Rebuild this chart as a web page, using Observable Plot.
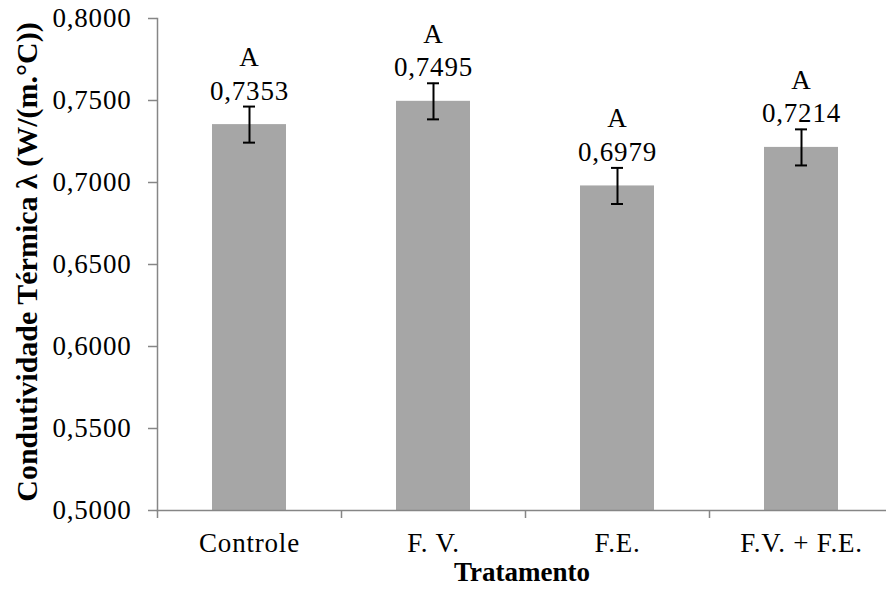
<!DOCTYPE html>
<html>
<head>
<meta charset="utf-8">
<script src="https://cdn.jsdelivr.net/npm/d3@7"></script>
<script src="https://cdn.jsdelivr.net/npm/@observablehq/plot@0.6"></script>
<style>
  html, body { margin: 0; padding: 0; background: #fff; }
  svg { display: block; }
  svg, svg text { font-family: "Liberation Serif", "Times New Roman", Times, serif !important; }
</style>
</head>
<body>
<div id="chart"></div>
<script>
const categories = ["Controle", "F. V.", "F.E.", "F.V. + F.E."];
const values = [0.7353, 0.7495, 0.6979, 0.7214];
const errors = [0.011, 0.011, 0.011, 0.011];
const letters = ["A", "A", "A", "A"];
const yTicks = [0.50, 0.55, 0.60, 0.65, 0.70, 0.75, 0.80];

const data = categories.map((c, i) => ({cat: c, v: values[i], e: errors[i], l: letters[i]}));
const fmt = d => d3.format(".4f")(d).replace(".", ",");

const chart = Plot.plot({
  width: 886,
  height: 589,
  marginLeft: 157,
  marginRight: 0,
  marginTop: 18,
  marginBottom: 79,
  style: {fontSize: "27px", color: "#000", background: "#fff"},
  x: {domain: categories, range: [157, 893.5], paddingInner: 0.6, paddingOuter: 0.3},
  y: {domain: [0.5, 0.8]},
  marks: [
    Plot.barY(data, {x: "cat", y: "v", y1: 0.5, fill: "#a6a6a6"}),
    Plot.ruleX(data, {x: "cat", y1: d => d.v - d.e, y2: d => d.v + d.e, stroke: "#000", strokeWidth: 2}),
    Plot.tickY(data, {x: "cat", y: d => d.v + d.e, stroke: "#000", strokeWidth: 2, insetLeft: 31, insetRight: 31}),
    Plot.tickY(data, {x: "cat", y: d => d.v - d.e, stroke: "#000", strokeWidth: 2, insetLeft: 31, insetRight: 31}),
    Plot.text(data, {x: "cat", y: d => d.v + d.e, text: d => d.l + "\n" + fmt(d.v), lineAnchor: "bottom", dy: -7, lineHeight: 1.25, fontSize: 27, fill: "#000"}),
    Plot.axisY({ticks: yTicks, tickFormat: fmt, tickSize: 9, tickPadding: 17, stroke: "#868686", strokeWidth: 1.5, fill: "#000", fontSize: 27, label: null}),
    Plot.axisX({tickSize: 8, tickFormat: null, dx: -92, stroke: "#868686", strokeWidth: 1.5, label: null}),
    Plot.axisX({tickSize: 0, tickPadding: 22, fontSize: 27, fill: "#000", label: null}),
    Plot.frame({anchor: "left", stroke: "#868686", strokeWidth: 1.5}),
    Plot.frame({anchor: "bottom", stroke: "#868686", strokeWidth: 1.5})
  ]
});

const svg = d3.select(chart);
svg.selectAll("text").attr("letter-spacing", "0.8px");
svg.append("text")
  .attr("transform", "translate(37,262) rotate(-90)")
  .attr("text-anchor", "middle")
  .attr("font-weight", "bold")
  .attr("font-size", 30)
  .attr("fill", "#000")
  .text("Condutividade Térmica λ (W/(m.°C))");
svg.append("text")
  .attr("x", 522)
  .attr("y", 581)
  .attr("text-anchor", "middle")
  .attr("font-weight", "bold")
  .attr("font-size", 27)
  .attr("fill", "#000")
  .text("Tratamento");

document.getElementById("chart").appendChild(chart);
</script>
</body>
</html>
